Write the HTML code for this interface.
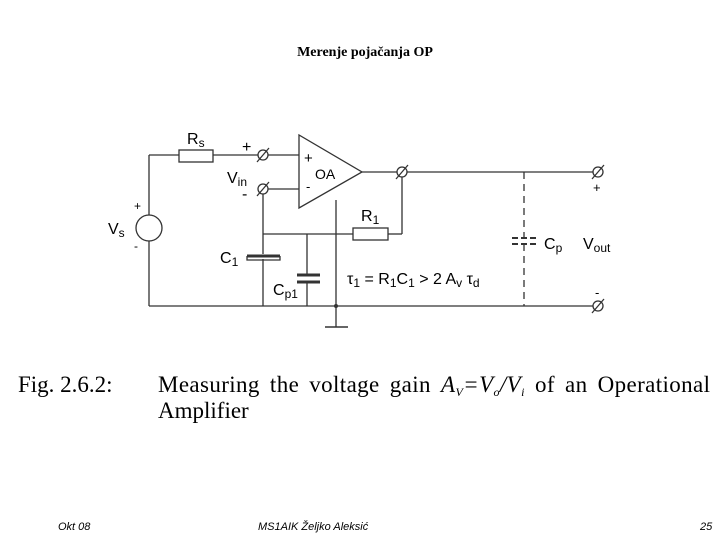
<!DOCTYPE html>
<html><head><meta charset="utf-8"><style>
html,body{margin:0;padding:0;background:#fff;width:720px;height:540px;overflow:hidden}
svg{display:block}
.s{font-family:"Liberation Sans",sans-serif;fill:#000}
.r{font-family:"Liberation Serif",serif;fill:#000}
</style></head><body>
<svg width="720" height="540" viewBox="0 0 720 540">
<text x="365" y="56" text-anchor="middle" class="r" font-size="14" font-weight="bold">Merenje pojačanja OP</text>
<g stroke="#333" stroke-width="1.3" fill="none">
<line x1="149" y1="155" x2="179" y2="155"/>
<rect x="179" y="150" width="34" height="12" fill="#fff"/>
<line x1="213" y1="155" x2="258" y2="155"/>
<line x1="268" y1="155" x2="299" y2="155"/>
<line x1="149" y1="155" x2="149" y2="215"/>
<circle cx="149" cy="228" r="13" fill="#fff"/>
<line x1="149" y1="241" x2="149" y2="306"/>
<line x1="149" y1="306" x2="593" y2="306"/>
<polygon points="299,135 299,208 362,172" fill="#fff"/>
<line x1="268" y1="189" x2="299" y2="189"/>
<line x1="362" y1="172" x2="397" y2="172"/>
<line x1="407" y1="172" x2="593" y2="172"/>
<line x1="402" y1="177" x2="402" y2="234"/>
<line x1="388" y1="234" x2="402" y2="234"/>
<rect x="353" y="228" width="35" height="12" fill="#fff"/>
<line x1="263" y1="234" x2="353" y2="234"/>
<line x1="263" y1="194" x2="263" y2="254"/>
<line x1="263" y1="259" x2="263" y2="306"/>
<line x1="307" y1="234" x2="307" y2="275"/>
<line x1="307" y1="282" x2="307" y2="306"/>
<line x1="336" y1="200" x2="336" y2="327"/>
<line x1="325" y1="327" x2="348" y2="327" stroke-width="1.6"/>
<line x1="524" y1="172" x2="524" y2="306" stroke-dasharray="7,5"/>
<line x1="512" y1="238" x2="537" y2="238" stroke-dasharray="6,3" stroke-width="2"/>
<line x1="512" y1="244" x2="537" y2="244" stroke-dasharray="6,3" stroke-width="2"/>
<g fill="#fff">
<circle cx="263" cy="155" r="5"/><circle cx="263" cy="189" r="5"/>
<circle cx="402" cy="172" r="5"/><circle cx="598" cy="172" r="5"/><circle cx="598" cy="306" r="5"/>
</g>
<line x1="257" y1="162" x2="269" y2="148"/><line x1="257" y1="196" x2="269" y2="182"/>
<line x1="396" y1="179" x2="408" y2="165"/><line x1="592" y1="179" x2="604" y2="165"/><line x1="592" y1="313" x2="604" y2="299"/>
<line x1="247" y1="256" x2="280" y2="256" stroke-width="3"/>
<path d="M247,256 V260 H280 V256"/>
</g>
<line x1="297" y1="275" x2="320" y2="275" stroke="#333" stroke-width="3"/>
<line x1="297" y1="282" x2="320" y2="282" stroke="#333" stroke-width="3"/>
<circle cx="336" cy="306" r="2" fill="#333"/>
<g class="s" font-size="16">
<text x="187" y="144">R<tspan font-size="12" dy="3">s</tspan></text>
<text x="242" y="152">+</text>
<text x="227" y="183">V<tspan font-size="12" dy="3">in</tspan></text>
<text x="242" y="199">-</text>
<text x="304" y="163" font-size="15">+</text>
<text x="306" y="191" font-size="13">-</text>
<text x="315" y="179" font-size="14">OA</text>
<text x="108" y="234">V<tspan font-size="12" dy="3">s</tspan></text>
<text x="134" y="210" font-size="12">+</text>
<text x="134" y="250" font-size="12">-</text>
<text x="220" y="263">C<tspan font-size="12" dy="3">1</tspan></text>
<text x="273" y="295">C<tspan font-size="12" dy="3">p1</tspan></text>
<text x="361" y="221">R<tspan font-size="12" dy="3">1</tspan></text>
<text x="347" y="284">τ<tspan font-size="12" dy="3">1</tspan><tspan dy="-3"> = R</tspan><tspan font-size="12" dy="3">1</tspan><tspan dy="-3">C</tspan><tspan font-size="12" dy="3">1</tspan><tspan dy="-3"> &gt; 2 A</tspan><tspan font-size="12" dy="3">v</tspan><tspan dy="-3"> τ</tspan><tspan font-size="12" dy="3">d</tspan></text>
<text x="544" y="249">C<tspan font-size="12" dy="3">p</tspan></text>
<text x="583" y="249">V<tspan font-size="12" dy="3">out</tspan></text>
<text x="593" y="192" font-size="13">+</text>
<text x="595" y="297" font-size="13">-</text>
</g>
<g class="r" font-size="23">
<text x="18" y="392">Fig. 2.6.2:</text>
<text x="158" y="392" textLength="552" lengthAdjust="spacing" word-spacing="4">Measuring the voltage gain <tspan font-style="italic">A<tspan font-size="12" dy="4">V</tspan><tspan dy="-4">=V</tspan><tspan font-size="12" dy="4">o</tspan><tspan dy="-4">/V</tspan><tspan font-size="12" dy="4">i</tspan></tspan><tspan dy="-4"> of an Operational</tspan></text>
<text x="158" y="418">Amplifier</text>
</g>
<g class="s" font-size="11" font-style="italic">
<text x="58" y="530">Okt 08</text>
<text x="258" y="530">MS1AIK   Željko Aleksić</text>
<text x="700" y="530">25</text>
</g>
</svg>
</body></html>
